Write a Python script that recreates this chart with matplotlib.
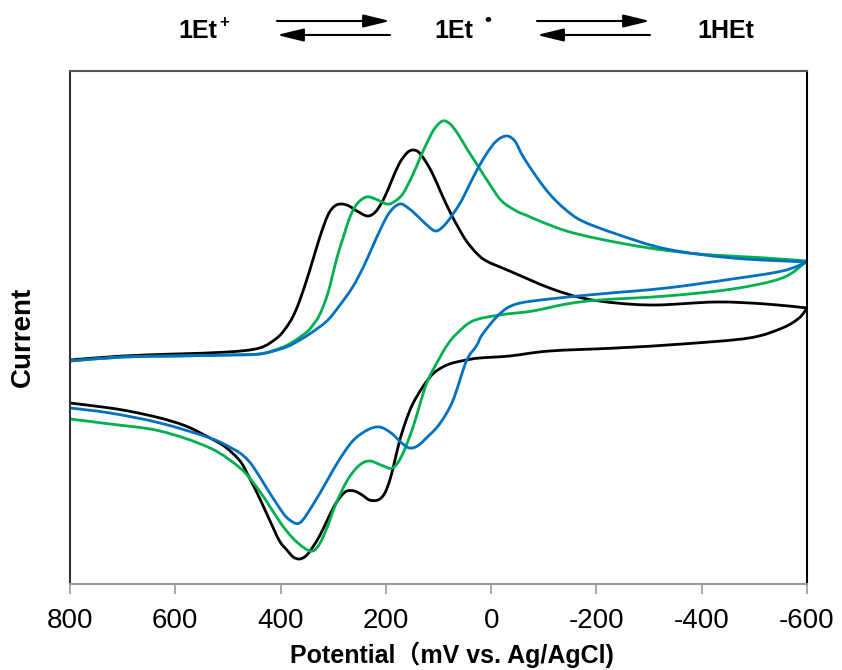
import matplotlib
matplotlib.use("Agg")
import matplotlib.pyplot as plt
from matplotlib.path import Path
from matplotlib.patches import PathPatch

plt.rcParams['font.family'] = ['Liberation Sans', 'Noto Sans CJK JP', 'DejaVu Sans']

# potential (mV vs Ag/AgCl) and current (arb. units) for each sweep
# black: 1Et+
e_black_fwd = [800, 700, 600, 500, 440, 407, 390, 377, 364, 345, 326, 310, 297, 284, 270, 255, 235, 220, 205, 190,
               175, 160, 149, 138, 125, 111, 95, 79, 63, 47, 28, 9, -35, -111, -173, -238, -314, -428, -522, -600]
i_black_fwd = [22.4, 22.8, 23.0, 23.2, 23.6, 24.6, 25.6, 26.7, 28.3, 31.3, 34.6, 36.9, 37.8, 38.0, 37.8, 37.3, 36.8, 37.2, 38.4, 40.2,
               42.0, 43.1, 43.4, 43.2, 42.3, 41.0, 39.1, 37.3, 35.7, 34.3, 33.1, 32.3, 31.3, 29.6, 28.6, 28.1, 27.9, 28.2, 28.0, 27.6]
e_black_rev = [-600, -585, -553, -490, -363, -238, -111, -35, 22, 47, 73, 92, 111, 130, 149, 162, 174, 184, 193, 203,
               215, 231, 245, 260, 274, 285, 298, 312, 326, 340, 352, 364, 376, 388, 402, 420, 440, 460, 477, 505,
               534, 580, 629, 680, 724, 800]
i_black_rev = [27.6, 26.6, 25.6, 24.6, 24.0, 23.6, 23.3, 22.8, 22.6, 22.4, 22.1, 21.7, 21.0, 19.7, 18.0, 16.3, 14.3, 12.1, 10.3, 9.0,
               8.4, 8.4, 8.9, 9.3, 9.3, 8.8, 7.8, 6.3, 4.8, 3.6, 2.8, 2.5, 2.7, 3.4, 4.3, 6.3, 8.6, 10.7, 12.3, 13.7,
               14.6, 15.8, 16.6, 17.2, 17.6, 18.1]

# green
e_green_fwd = [800, 700, 600, 500, 440, 400, 377, 350, 340, 326, 310, 293, 280, 269, 255, 237, 220, 198, 185, 168, 150,
               135, 123, 108, 92, 78, 63, 47, 25, 3, -20, -48, -70, -92, -143, -206, -300, -395, -522, -600]
i_green_fwd = [22.3, 22.7, 22.8, 22.9, 23.0, 23.6, 24.2, 25.2, 25.8, 26.9, 29.1, 32.6, 34.8, 36.6, 38.0, 38.7, 38.5, 38.0, 38.2, 39.0, 40.8,
               42.6, 44.0, 45.5, 46.3, 46.0, 45.0, 43.6, 41.8, 40.0, 38.3, 37.3, 36.8, 36.3, 35.3, 34.5, 33.6, 33.0, 32.6, 32.3]
e_green_rev = [-600, -553, -458, -333, -206, -143, -79, -16, 35, 66, 82, 98, 123, 149, 170, 187, 205, 231, 252, 274,
               295, 312, 326, 339, 355, 377, 400, 427, 450, 477, 534, 629, 724, 800]
i_green_rev = [32.3, 30.6, 29.5, 28.8, 28.4, 28.0, 27.3, 26.9, 26.3, 25.0, 24.0, 22.6, 20.0, 15.6, 12.8, 11.6, 11.8, 12.3, 11.8, 10.3,
               8.0, 5.6, 4.0, 3.3, 3.6, 4.6, 6.1, 8.3, 10.0, 11.6, 13.6, 15.3, 16.0, 16.5]

# blue
e_blue_fwd = [800, 700, 600, 500, 440, 400, 377, 345, 312, 290, 263, 240, 218, 195, 174, 155, 136, 120, 104, 85,
              60, 47, 28, 9, -10, -29, -45, -60, -85, -111, -140, -173, -238, -333, -458, -600]
i_blue_fwd = [22.3, 22.7, 22.8, 22.9, 23.0, 23.5, 24.0, 25.0, 26.3, 27.7, 29.7, 32.0, 34.6, 37.0, 38.0, 37.5, 36.6, 35.8, 35.3, 36.1,
              38.0, 39.3, 41.3, 43.0, 44.3, 44.8, 44.3, 42.8, 40.8, 39.0, 37.5, 36.3, 35.0, 33.5, 32.6, 32.2]
e_blue_rev = [-600, -553, -458, -333, -206, -111, -48, -16, 16, 28, 47, 73, 98, 123, 140, 155, 170, 190, 212, 235,
              263, 290, 312, 340, 364, 385, 402, 430, 453, 470, 490, 534, 629, 724, 800]
i_blue_rev = [32.2, 31.3, 30.5, 29.6, 29.0, 28.5, 28.0, 27.0, 25.0, 23.8, 22.3, 18.3, 16.0, 14.6, 13.8, 13.6, 14.1, 15.1, 15.7, 15.4,
              14.3, 12.3, 10.3, 7.8, 6.1, 6.5, 7.6, 9.9, 11.8, 12.8, 13.5, 14.6, 16.1, 17.1, 17.6]

x_ticks = [800, 600, 400, 200, 0, -200, -400, -600]


def smooth_line(ax, xs, ys, color, lw=2.0):
    # smoothed line like a spreadsheet "smooth line": bezier segments through the data points
    pts = list(zip(xs, ys))
    verts = [pts[0]]
    codes = [Path.MOVETO]
    n = len(pts)
    for k in range(n - 1):
        p0 = pts[k - 1] if k > 0 else pts[k]
        p1 = pts[k]
        p2 = pts[k + 1]
        p3 = pts[k + 2] if k + 2 < n else pts[k + 1]
        c1 = (p1[0] + (p2[0] - p0[0]) / 6, p1[1] + (p2[1] - p0[1]) / 6)
        c2 = (p2[0] - (p3[0] - p1[0]) / 6, p2[1] - (p3[1] - p1[1]) / 6)
        verts += [c1, c2, p2]
        codes += [Path.CURVE4] * 3
    ax.add_patch(PathPatch(Path(verts, codes), fill=False, edgecolor=color, lw=lw,
                           capstyle='round', joinstyle='round'))


fig = plt.figure(figsize=(8.42, 6.70), dpi=100)
ax = fig.add_axes([70 / 842, 1 - 584 / 670, 737 / 842, 513 / 670])

smooth_line(ax, e_black_fwd, i_black_fwd, 'black')
smooth_line(ax, e_black_rev, i_black_rev, 'black')
smooth_line(ax, e_green_fwd, i_green_fwd, '#00b050')
smooth_line(ax, e_green_rev, i_green_rev, '#00b050')
smooth_line(ax, e_blue_fwd, i_blue_fwd, '#0070c0')
smooth_line(ax, e_blue_rev, i_blue_rev, '#0070c0')

ax.set_xlim(800, -600)
ax.set_ylim(0, 51.3)
ax.set_xticks(x_ticks)
ax.set_xticklabels([str(t) for t in x_ticks])
ax.set_yticks([])
ax.tick_params(axis='x', direction='out', length=7, width=1.2, color='#999999',
               labelsize=20, pad=10)

ax.spines['top'].set_color('#555555')
ax.spines['left'].set_color('#333333')
ax.spines['right'].set_color('black')
ax.spines['bottom'].set_color('#999999')
for s in ax.spines.values():
    s.set_linewidth(1.5)

fig.text(452 / 842, 1 - 655 / 670, 'Potential（mV vs. Ag/AgCl)', fontsize=18,
         fontweight='bold', ha='center', va='center')
fig.text(23 / 842, 1 - 337 / 670, 'Current', fontsize=20, fontweight='bold',
         rotation=90, ha='center', va='center')

# reaction scheme on top
ty = 1 - 31 / 670
fig.text(178 / 842, ty, '1Et', fontsize=18, fontweight='bold', ha='left', va='center')
fig.text(219 / 842, 1 - 22 / 670, '+', fontsize=12, fontweight='bold', ha='left', va='center')
fig.text(434 / 842, ty, '1Et', fontsize=18, fontweight='bold', ha='left', va='center')
fig.text(484 / 842, 1 - 21 / 670, '•', fontsize=14, fontweight='bold', ha='left', va='center')
fig.text(697 / 842, ty, '1HEt', fontsize=18, fontweight='bold', ha='left', va='center')

arrow_kw = dict(arrowstyle='-|>,head_length=0.9,head_width=0.22', color='black', lw=1.5,
                shrinkA=0, shrinkB=0, mutation_scale=18)
for x0, x1 in [(277, 390), (537, 650)]:
    ax.annotate('', xy=(x1 / 842, 1 - 21 / 670), xytext=(x0 / 842, 1 - 21 / 670),
                xycoords='figure fraction', textcoords='figure fraction', arrowprops=arrow_kw)
    ax.annotate('', xy=(x0 / 842, 1 - 35 / 670), xytext=(x1 / 842, 1 - 35 / 670),
                xycoords='figure fraction', textcoords='figure fraction', arrowprops=arrow_kw)

fig.savefig('out.png', dpi=100)
